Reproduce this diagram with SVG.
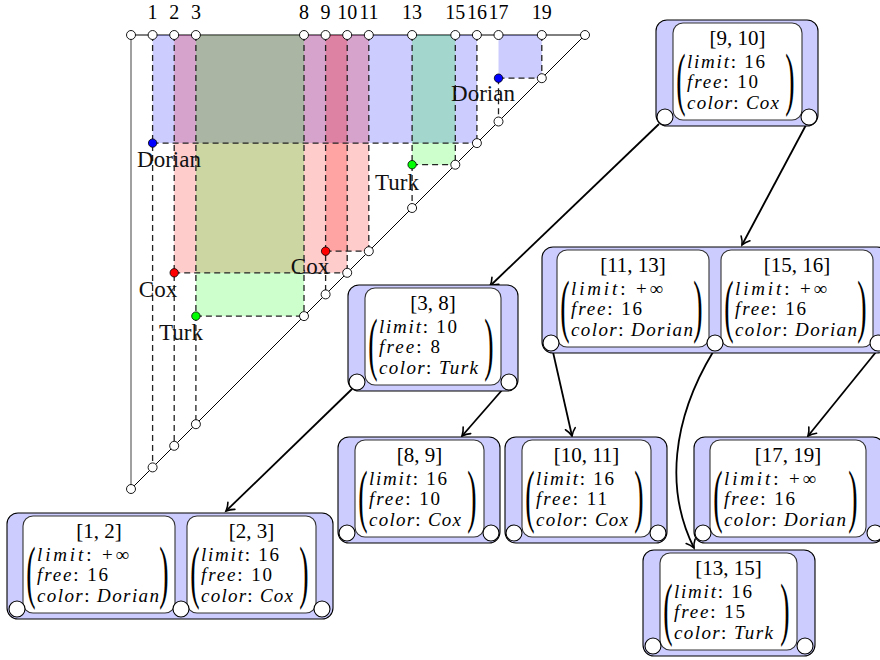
<svg xmlns="http://www.w3.org/2000/svg" width="880" height="660" viewBox="0 0 880 660">
<style>
.tri{stroke:#000;stroke-width:1;fill:none}
.axis{stroke:#808080;stroke-width:1.5;fill:none}
.dash{stroke:#222;stroke-width:1.3;stroke-dasharray:6 4;fill:none}
.oc{fill:#fff;stroke:#000;stroke-width:0.9}
.dot{stroke:#000;stroke-width:0.8}
.num{font-family:"Liberation Serif",serif;font-size:20px;text-anchor:middle;fill:#000}
.lab{font-family:"Liberation Serif",serif;font-size:23px;text-anchor:middle;fill:#111}
.outer{fill:#ccccff;stroke:#000;stroke-width:1.1}
.inner{fill:#fff;stroke:#333;stroke-width:1.1}
.knob{fill:#fff;stroke:#000;stroke-width:1.1}
.ttl{font-family:"Liberation Serif",serif;font-size:21px;text-anchor:middle}
.ln{font-family:"Liberation Serif",serif;font-size:19px}
.it{font-style:italic}
.par{font-family:"Liberation Serif",serif;font-size:28px;text-anchor:middle}
.edge{stroke:#000;stroke-width:1.8;fill:none;marker-end:url(#tip)}
</style>
<defs>
<marker id="tip" markerUnits="userSpaceOnUse" markerWidth="12" markerHeight="14" viewBox="-10 -7 12 14" refX="0" refY="0" orient="auto" overflow="visible">
<path d="M-7.5,-5 C-4.5,-2 -1.5,-0.6 0,0 C-1.5,0.6 -4.5,2 -7.5,5" fill="none" stroke="#000" stroke-width="1.6" stroke-linecap="round"/>
</marker>
</defs>

<!-- staircase chart: x(k)=131+21.62k, diagonal y(k)=35+21.62(21-k) -->
<g id="chart">
<line class="axis" x1="131" y1="35" x2="131" y2="489"/>
<line class="tri" x1="131" y1="35" x2="585" y2="35"/>
<line class="tri" x1="131" y1="489" x2="585" y2="35"/>
<!-- colour regions -->
<g fill-opacity="0.2">
<rect fill="#0000ff" x="152.6" y="35" width="324.3" height="108.1"/>
<rect fill="#0000ff" x="498.5" y="35" width="43.3" height="43.2"/>
<rect fill="#ff0000" x="174.2" y="35" width="173" height="237.8"/>
<rect fill="#ff0000" x="325.6" y="35" width="43.2" height="216.2"/>
<rect fill="#00ff00" x="195.9" y="35" width="108.1" height="281.1"/>
<rect fill="#00ff00" x="412.1" y="35" width="43.2" height="129.7"/>
</g>
<!-- guide lines -->
<g class="dash">
<line x1="152.6" y1="35" x2="152.6" y2="467.4"/>
<line x1="174.2" y1="35" x2="174.2" y2="445.8"/>
<line x1="195.9" y1="35" x2="195.9" y2="424.2"/>
<line x1="304" y1="35" x2="304" y2="316.1"/>
<line x1="325.6" y1="35" x2="325.6" y2="294.4"/>
<line x1="347.2" y1="35" x2="347.2" y2="272.8"/>
<line x1="368.8" y1="35" x2="368.8" y2="251.2"/>
<line x1="412.1" y1="35" x2="412.1" y2="208"/>
<line x1="455.3" y1="35" x2="455.3" y2="164.7"/>
<line x1="476.9" y1="35" x2="476.9" y2="143.1"/>
<line x1="498.5" y1="78.2" x2="498.5" y2="121.5"/>
<line x1="541.8" y1="35" x2="541.8" y2="78.2"/>
<line x1="152.6" y1="143.1" x2="476.9" y2="143.1"/>
<line x1="498.5" y1="78.2" x2="541.8" y2="78.2"/>
<line x1="174.2" y1="272.8" x2="347.2" y2="272.8"/>
<line x1="325.6" y1="251.2" x2="368.8" y2="251.2"/>
<line x1="195.9" y1="316.1" x2="304" y2="316.1"/>
<line x1="412.1" y1="164.7" x2="455.3" y2="164.7"/>
</g>
<!-- points on the top edge -->
<g class="oc">
<circle cx="131" cy="35" r="4.5"/><circle cx="152.6" cy="35" r="4.5"/><circle cx="174.2" cy="35" r="4.5"/>
<circle cx="195.9" cy="35" r="4.5"/><circle cx="304" cy="35" r="4.5"/><circle cx="325.6" cy="35" r="4.5"/>
<circle cx="347.2" cy="35" r="4.5"/><circle cx="368.8" cy="35" r="4.5"/><circle cx="412.1" cy="35" r="4.5"/>
<circle cx="455.3" cy="35" r="4.5"/><circle cx="476.9" cy="35" r="4.5"/><circle cx="498.5" cy="35" r="4.5"/>
<circle cx="541.8" cy="35" r="4.5"/><circle cx="585" cy="35" r="4.5"/>
<!-- points on the diagonal -->
<circle cx="131" cy="489" r="4.5"/><circle cx="152.6" cy="467.4" r="4.5"/><circle cx="174.2" cy="445.8" r="4.5"/>
<circle cx="195.9" cy="424.2" r="4.5"/><circle cx="304" cy="316.1" r="4.5"/><circle cx="325.6" cy="294.4" r="4.5"/>
<circle cx="347.2" cy="272.8" r="4.5"/><circle cx="368.8" cy="251.2" r="4.5"/><circle cx="412.1" cy="208" r="4.5"/>
<circle cx="455.3" cy="164.7" r="4.5"/><circle cx="476.9" cy="143.1" r="4.5"/><circle cx="498.5" cy="121.5" r="4.5"/>
<circle cx="541.8" cy="78.2" r="4.5"/>
</g>
<!-- coloured corner dots -->
<circle class="dot" fill="#0000ff" cx="152.6" cy="143.1" r="4.2"/>
<circle class="dot" fill="#0000ff" cx="498.5" cy="78.2" r="4.2"/>
<circle class="dot" fill="#ff0000" cx="174.2" cy="272.8" r="4.2"/>
<circle class="dot" fill="#ff0000" cx="325.6" cy="251.2" r="4.2"/>
<circle class="dot" fill="#00ff00" cx="195.9" cy="316.1" r="4.2"/>
<circle class="dot" fill="#00ff00" cx="412.1" cy="164.7" r="4.2"/>
<!-- axis numbers -->
<text class="num" x="152.6" y="19">1</text><text class="num" x="174.2" y="19">2</text>
<text class="num" x="195.9" y="19">3</text><text class="num" x="304" y="19">8</text>
<text class="num" x="325.6" y="19">9</text><text class="num" x="347.2" y="19">10</text>
<text class="num" x="368.8" y="19">11</text><text class="num" x="412.1" y="19">13</text>
<text class="num" x="455.3" y="19">15</text><text class="num" x="476.9" y="19">16</text>
<text class="num" x="498.5" y="19">17</text><text class="num" x="541.8" y="19">19</text>
<!-- colour names -->
<text class="lab" x="169" y="167">Dorian</text>
<text class="lab" x="483" y="101">Dorian</text>
<text class="lab" x="158" y="297">Cox</text>
<text class="lab" x="310" y="274">Cox</text>
<text class="lab" x="181" y="340">Turk</text>
<text class="lab" x="397" y="190">Turk</text>
</g>

<!-- tree edges -->
<g id="edges">
<path class="edge" d="M659,124 L490,286"/>
<path class="edge" d="M806,125 L742,245"/>
<path class="edge" d="M352,389 L226,511"/>
<path class="edge" d="M503,389 L462,436"/>
<path class="edge" d="M553,352 L572,436"/>
<path class="edge" d="M713,352 C672,420 665,490 694,548"/>
<path class="edge" d="M876,352 L808,436"/>
</g>

<!-- tree nodes -->
<g id="n9_10">
<rect class="outer" x="656" y="20" width="162" height="106" rx="11"/>
<g transform="translate(673,23)">
<rect class="inner" width="129" height="97" rx="10"/>
<text class="ttl" x="64.5" y="22">[9, 10]</text>
<text class="par" transform="translate(8,60.5) scale(1,2.5)" y="7.2">(</text>
<text class="ln" x="14" y="44.5" textLength="78" lengthAdjust="spacing"><tspan class="it">limit</tspan>: 16</text>
<text class="ln" x="14" y="65" textLength="71" lengthAdjust="spacing"><tspan class="it">free</tspan>: 10</text>
<text class="ln" x="14" y="85.5" textLength="92" lengthAdjust="spacing"><tspan class="it">color</tspan>: <tspan class="it">Cox</tspan></text>
<text class="par" transform="translate(117,60.5) scale(1,2.5)" y="7.2">)</text>
</g>
<circle class="knob" cx="665" cy="117" r="8"/><circle class="knob" cx="809" cy="117" r="8"/>
</g>

<g id="n11_13_15_16">
<rect class="outer" x="542" y="247" width="346" height="106" rx="11"/>
<g transform="translate(557,250)">
<rect class="inner" width="152" height="97" rx="10"/>
<text class="ttl" x="76" y="22">[11, 13]</text>
<text class="par" transform="translate(8,60.5) scale(1,2.5)" y="7.2">(</text>
<text class="ln" x="14" y="44.5" textLength="92" lengthAdjust="spacing"><tspan class="it">limit</tspan>: +∞</text>
<text class="ln" x="14" y="65" textLength="71" lengthAdjust="spacing"><tspan class="it">free</tspan>: 16</text>
<text class="ln" x="14" y="85.5" textLength="122" lengthAdjust="spacing"><tspan class="it">color</tspan>: <tspan class="it">Dorian</tspan></text>
<text class="par" transform="translate(141,60.5) scale(1,2.5)" y="7.2">)</text>
</g>
<g transform="translate(721,250)">
<rect class="inner" width="152" height="97" rx="10"/>
<text class="ttl" x="76" y="22">[15, 16]</text>
<text class="par" transform="translate(8,60.5) scale(1,2.5)" y="7.2">(</text>
<text class="ln" x="14" y="44.5" textLength="92" lengthAdjust="spacing"><tspan class="it">limit</tspan>: +∞</text>
<text class="ln" x="14" y="65" textLength="71" lengthAdjust="spacing"><tspan class="it">free</tspan>: 16</text>
<text class="ln" x="14" y="85.5" textLength="122" lengthAdjust="spacing"><tspan class="it">color</tspan>: <tspan class="it">Dorian</tspan></text>
<text class="par" transform="translate(141,60.5) scale(1,2.5)" y="7.2">)</text>
</g>
<circle class="knob" cx="551" cy="343" r="8"/><circle class="knob" cx="715" cy="343" r="8"/><circle class="knob" cx="878" cy="343" r="8"/>
</g>

<g id="n3_8">
<rect class="outer" x="348" y="285" width="170" height="106" rx="11"/>
<g transform="translate(365,288)">
<rect class="inner" width="136" height="97" rx="10"/>
<text class="ttl" x="68" y="22">[3, 8]</text>
<text class="par" transform="translate(8,60.5) scale(1,2.5)" y="7.2">(</text>
<text class="ln" x="14" y="44.5" textLength="78" lengthAdjust="spacing"><tspan class="it">limit</tspan>: 10</text>
<text class="ln" x="14" y="65" textLength="61" lengthAdjust="spacing"><tspan class="it">free</tspan>: 8</text>
<text class="ln" x="14" y="85.5" textLength="99" lengthAdjust="spacing"><tspan class="it">color</tspan>: <tspan class="it">Turk</tspan></text>
<text class="par" transform="translate(124,60.5) scale(1,2.5)" y="7.2">)</text>
</g>
<circle class="knob" cx="357" cy="382" r="8"/><circle class="knob" cx="509" cy="382" r="8"/>
</g>

<g id="n8_9">
<rect class="outer" x="338" y="437" width="162" height="106" rx="11"/>
<g transform="translate(355,440)">
<rect class="inner" width="129" height="97" rx="10"/>
<text class="ttl" x="64.5" y="22">[8, 9]</text>
<text class="par" transform="translate(8,60.5) scale(1,2.5)" y="7.2">(</text>
<text class="ln" x="14" y="44.5" textLength="78" lengthAdjust="spacing"><tspan class="it">limit</tspan>: 16</text>
<text class="ln" x="14" y="65" textLength="71" lengthAdjust="spacing"><tspan class="it">free</tspan>: 10</text>
<text class="ln" x="14" y="85.5" textLength="92" lengthAdjust="spacing"><tspan class="it">color</tspan>: <tspan class="it">Cox</tspan></text>
<text class="par" transform="translate(117,60.5) scale(1,2.5)" y="7.2">)</text>
</g>
<circle class="knob" cx="347" cy="533" r="8"/><circle class="knob" cx="491" cy="533" r="8"/>
</g>

<g id="n10_11">
<rect class="outer" x="505" y="437" width="162" height="106" rx="11"/>
<g transform="translate(522,440)">
<rect class="inner" width="129" height="97" rx="10"/>
<text class="ttl" x="64.5" y="22">[10, 11]</text>
<text class="par" transform="translate(8,60.5) scale(1,2.5)" y="7.2">(</text>
<text class="ln" x="14" y="44.5" textLength="78" lengthAdjust="spacing"><tspan class="it">limit</tspan>: 16</text>
<text class="ln" x="14" y="65" textLength="71" lengthAdjust="spacing"><tspan class="it">free</tspan>: 11</text>
<text class="ln" x="14" y="85.5" textLength="92" lengthAdjust="spacing"><tspan class="it">color</tspan>: <tspan class="it">Cox</tspan></text>
<text class="par" transform="translate(117,60.5) scale(1,2.5)" y="7.2">)</text>
</g>
<circle class="knob" cx="514" cy="533" r="8"/><circle class="knob" cx="658" cy="533" r="8"/>
</g>

<g id="n17_19">
<rect class="outer" x="694" y="437" width="190" height="106" rx="11"/>
<g transform="translate(710,440)">
<rect class="inner" width="156" height="97" rx="10"/>
<text class="ttl" x="78" y="22">[17, 19]</text>
<text class="par" transform="translate(8,60.5) scale(1,2.5)" y="7.2">(</text>
<text class="ln" x="14" y="44.5" textLength="92" lengthAdjust="spacing"><tspan class="it">limit</tspan>: +∞</text>
<text class="ln" x="14" y="65" textLength="71" lengthAdjust="spacing"><tspan class="it">free</tspan>: 16</text>
<text class="ln" x="14" y="85.5" textLength="122" lengthAdjust="spacing"><tspan class="it">color</tspan>: <tspan class="it">Dorian</tspan></text>
<text class="par" transform="translate(143,60.5) scale(1,2.5)" y="7.2">)</text>
</g>
<circle class="knob" cx="703" cy="533" r="8"/><circle class="knob" cx="875" cy="533" r="8"/>
</g>

<g id="n1_2_2_3">
<rect class="outer" x="7" y="513" width="326" height="106" rx="11"/>
<g transform="translate(23,516)">
<rect class="inner" width="152" height="97" rx="10"/>
<text class="ttl" x="76" y="22">[1, 2]</text>
<text class="par" transform="translate(8,60.5) scale(1,2.5)" y="7.2">(</text>
<text class="ln" x="14" y="44.5" textLength="92" lengthAdjust="spacing"><tspan class="it">limit</tspan>: +∞</text>
<text class="ln" x="14" y="65" textLength="71" lengthAdjust="spacing"><tspan class="it">free</tspan>: 16</text>
<text class="ln" x="14" y="85.5" textLength="122" lengthAdjust="spacing"><tspan class="it">color</tspan>: <tspan class="it">Dorian</tspan></text>
<text class="par" transform="translate(141,60.5) scale(1,2.5)" y="7.2">)</text>
</g>
<g transform="translate(187,516)">
<rect class="inner" width="129" height="97" rx="10"/>
<text class="ttl" x="64.5" y="22">[2, 3]</text>
<text class="par" transform="translate(8,60.5) scale(1,2.5)" y="7.2">(</text>
<text class="ln" x="14" y="44.5" textLength="78" lengthAdjust="spacing"><tspan class="it">limit</tspan>: 16</text>
<text class="ln" x="14" y="65" textLength="71" lengthAdjust="spacing"><tspan class="it">free</tspan>: 10</text>
<text class="ln" x="14" y="85.5" textLength="92" lengthAdjust="spacing"><tspan class="it">color</tspan>: <tspan class="it">Cox</tspan></text>
<text class="par" transform="translate(117,60.5) scale(1,2.5)" y="7.2">)</text>
</g>
<circle class="knob" cx="17" cy="609" r="8"/><circle class="knob" cx="181" cy="609" r="8"/><circle class="knob" cx="322" cy="609" r="8"/>
</g>

<g id="n13_15">
<rect class="outer" x="643" y="550" width="172" height="106" rx="11"/>
<g transform="translate(660,553)">
<rect class="inner" width="137" height="97" rx="10"/>
<text class="ttl" x="68.5" y="22">[13, 15]</text>
<text class="par" transform="translate(8,60.5) scale(1,2.5)" y="7.2">(</text>
<text class="ln" x="14" y="44.5" textLength="78" lengthAdjust="spacing"><tspan class="it">limit</tspan>: 16</text>
<text class="ln" x="14" y="65" textLength="71" lengthAdjust="spacing"><tspan class="it">free</tspan>: 15</text>
<text class="ln" x="14" y="85.5" textLength="99" lengthAdjust="spacing"><tspan class="it">color</tspan>: <tspan class="it">Turk</tspan></text>
<text class="par" transform="translate(125,60.5) scale(1,2.5)" y="7.2">)</text>
</g>
<circle class="knob" cx="653" cy="646" r="8"/><circle class="knob" cx="805" cy="646" r="8"/>
</g>
</svg>
